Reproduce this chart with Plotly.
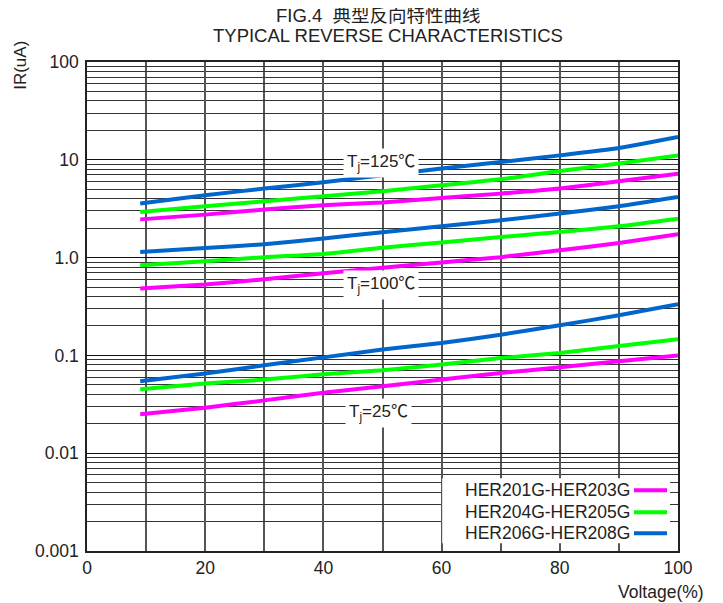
import math
import plotly.graph_objects as go

# ---------------- data ----------------
voltage = [9, 20, 30, 40, 50, 60, 70, 80, 90, 100]

series_names = ["HER201G-HER203G", "HER204G-HER205G", "HER206G-HER208G"]
series_colors = ["#FF00FF", "#00FF00", "#0066CC"]

# Tj = 125C
ir125_201 = [2.46, 2.75, 3.10, 3.43, 3.67, 4.07, 4.51, 5.08, 6.03, 7.22]
ir125_204 = [2.93, 3.35, 3.76, 4.24, 4.76, 5.49, 6.32, 7.68, 9.15, 11.1]
ir125_206 = [3.57, 4.34, 5.08, 5.89, 6.95, 8.13, 9.49, 11.1, 13.2, 17.1]
# Tj = 100C
ir100_201 = [0.482, 0.530, 0.600, 0.691, 0.787, 0.893, 1.01, 1.19, 1.41, 1.73]
ir100_204 = [0.834, 0.917, 1.01, 1.09, 1.26, 1.43, 1.62, 1.83, 2.09, 2.50]
ir100_206 = [1.14, 1.25, 1.37, 1.57, 1.82, 2.09, 2.41, 2.82, 3.35, 4.17]
# Tj = 25C
ir25_201 = [0.0250, 0.0292, 0.0347, 0.0415, 0.0483, 0.0566, 0.0661, 0.0755, 0.0871, 0.100]
ir25_204 = [0.0450, 0.0515, 0.0566, 0.0641, 0.0705, 0.0805, 0.0940, 0.106, 0.125, 0.146]
ir25_206 = [0.0543, 0.0652, 0.0793, 0.0955, 0.1147, 0.134, 0.163, 0.203, 0.257, 0.333]

temp_labels = ["T<sub>j</sub>=125℃", "T<sub>j</sub>=100℃", "T<sub>j</sub>=25℃"]
temp_label_x = [49.8, 49.8, 49.3]
temp_label_y = [9.27, 0.521, 0.0258]

x_tickvals = [0, 20, 40, 60, 80, 100]
y_tickvals = [100, 10, 1, 0.1, 0.01, 0.001]
y_ticktext = ["100", "10", "1.0", "0.1", "0.01", "0.001"]

title_line1 = "FIG.4  典型反向特性曲线"
title_line2 = "TYPICAL REVERSE CHARACTERISTICS"
x_title = "Voltage(%)"
y_title = "IR(uA)"

# ---------------- figure ----------------
FONT = "Liberation Sans, Arial, Noto Sans CJK SC, sans-serif"
TXT = "#222"
fig = go.Figure()

groups = [
    [ir125_201, ir125_204, ir125_206],
    [ir100_201, ir100_204, ir100_206],
    [ir25_201, ir25_204, ir25_206],
]
for g in groups:
    for i, ys in enumerate(g):
        fig.add_trace(go.Scatter(
            x=voltage, y=ys, mode="lines",
            line=dict(color=series_colors[i], width=4, shape="spline", smoothing=0.5),
            name=series_names[i], showlegend=False, hoverinfo="skip"))

# temperature labels (log axis -> annotation y in log10 units)
for t, xx, yy in zip(temp_labels, temp_label_x, temp_label_y):
    fig.add_annotation(x=xx, y=math.log10(yy), xref="x", yref="y", text=t,
                       showarrow=False, xanchor="center", yanchor="middle",
                       bgcolor="white", borderpad=3,
                       font=dict(size=17, color=TXT, family=FONT))

# custom legend (text left, line sample right)
fig.add_shape(type="rect", xref="paper", yref="paper", x0=0.601, x1=0.9865,
              y0=0.0157, y1=0.1487, fillcolor="white", line=dict(width=0),
              layer="above")
legend_rows_y = [0.1241, 0.0791, 0.0362]
for name, col, ry in zip(series_names, series_colors, legend_rows_y):
    fig.add_annotation(x=0.922, y=ry, xref="paper", yref="paper", text=name,
                       showarrow=False, xanchor="right", yanchor="middle",
                       font=dict(size=17.5, color=TXT, family=FONT))
    fig.add_shape(type="line", xref="paper", yref="paper", x0=0.9255, x1=0.9814,
                  y0=ry, y1=ry, line=dict(color=col, width=4), layer="above")

def paper_text(x, y, text, size, **kw):
    fig.add_annotation(x=x, y=y, xref="paper", yref="paper", text=text,
                       showarrow=False,
                       xanchor=kw.pop("xanchor", "center"),
                       yanchor=kw.pop("yanchor", "middle"),
                       font=dict(size=size, color=TXT, family=FONT), **kw)

# titles
paper_text(0.4924, 1.0955, title_line1, 18.5)
paper_text(0.509, 1.0546, title_line2, 18.5)
paper_text(0.971, -0.0845, x_title, 17.5)
paper_text(-0.112, 0.9939, y_title, 17, textangle=-90)
# cropped text fragments at the edges of the picture
paper_text(1.062, 1.1309, "y", 17, xanchor="left")
paper_text(-0.1303, -0.0838, "(V)", 17, xanchor="right", yanchor="top")

fig.update_xaxes(range=[0, 100], tickvals=x_tickvals, showgrid=True,
                 gridcolor="#555", gridwidth=1.5,
                 minor=dict(dtick=10, showgrid=True, gridcolor="#555", gridwidth=1.5),
                 showline=True, linecolor=TXT, linewidth=1.5, mirror=True,
                 ticks="", zeroline=False,
                 tickfont=dict(size=17.5, color=TXT, family=FONT))
fig.update_yaxes(type="log", range=[-3, 2], tickvals=y_tickvals, ticktext=y_ticktext,
                 showgrid=True, gridcolor="#111", gridwidth=1.3,
                 minor=dict(dtick="D1", showgrid=True, gridcolor="#333", gridwidth=1.1),
                 showline=True, linecolor=TXT, linewidth=1.5, mirror=True,
                 ticks="", zeroline=False, ticklabelstandoff=3,
                 tickfont=dict(size=17.5, color=TXT, family=FONT))

# page body has an 8px margin, so the figure is sized/offset to compensate
fig.update_layout(width=715, height=595, margin=dict(l=79, r=45, t=54, b=52),
                  paper_bgcolor="white", plot_bgcolor="white", showlegend=False,
                  font=dict(family=FONT, color=TXT))

fig.write_html("out.html")
